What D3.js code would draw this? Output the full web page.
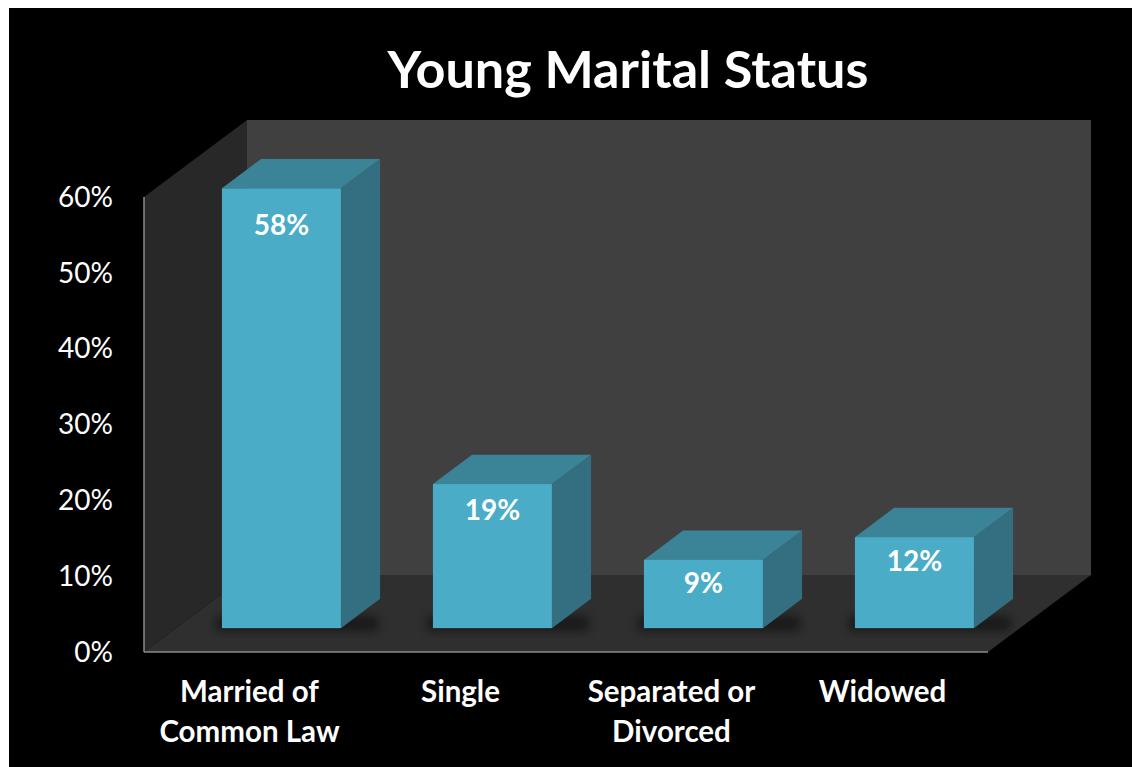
<!DOCTYPE html>
<html>
<head>
<meta charset="utf-8">
<script src="https://cdn.jsdelivr.net/npm/d3@7"></script>
<style>
  html, body { margin: 0; padding: 0; background: #fff; }
  svg { display: block; }
  text { font-family: Lato, "Open Sans", sans-serif; fill: #fff; }
</style>
</head>
<body>
<div id="chart"></div>
<script>
var categories = ['Married of Common Law', 'Single', 'Separated or Divorced', 'Widowed'];
var values = [0.58, 0.19, 0.09, 0.12];
var yTicks = [0, 0.1, 0.2, 0.3, 0.4, 0.5, 0.6];
var title = 'Young Marital Status';

var W = 1132, H = 767;

// front plane of the 3d box, and depth offset to the back wall
var plot = {left: 144, right: 988, bottom: 652, top: 197},
    depth = {dx: 103, dy: -77},
    barFront = 0.31, barBack = 0.69;

var svg = d3.select('#chart').append('svg')
  .attr('width', W)
  .attr('height', H);

var defs = svg.append('defs');
defs.append('filter').attr('id', 'blur')
  .attr('x', '-50%').attr('y', '-50%').attr('width', '200%').attr('height', '200%')
  .append('feGaussianBlur').attr('stdDeviation', 5);

// white edge, then black chart area
svg.append('rect').attr('width', W).attr('height', H).attr('fill', '#fff');
svg.append('rect').attr('x', 9).attr('y', 8).attr('width', W - 9).attr('height', H - 8).attr('fill', '#000');

var x = d3.scaleBand().domain(categories)
    .range([plot.left, plot.right])
    .paddingInner(0.436).paddingOuter(0.218),
    y = d3.scaleLinear().domain([0, 0.6]).range([plot.bottom, plot.top]);

function pt(px, py, f) { return [px + depth.dx * f, py + depth.dy * f]; }
function poly(pts) { return pts.map(function(p) { return p.join(','); }).join(' '); }

// walls
var L = plot.left, R = plot.right, B = plot.bottom, T = plot.top;
svg.append('polygon').attr('class', 'back')
  .attr('points', poly([pt(L, T, 1), pt(R, T, 1), pt(R, B, 1), pt(L, B, 1)]))
  .attr('fill', '#404040');
svg.append('polygon').attr('class', 'side')
  .attr('points', poly([[L, T], pt(L, T, 1), pt(L, B, 1), [L, B]]))
  .attr('fill', '#282828');
svg.append('polygon').attr('class', 'floor')
  .attr('points', poly([[L, B], pt(L, B, 1), pt(R, B, 1), [R, B]]))
  .attr('fill', '#2f2f2f');

// axis edges
svg.append('line').attr('x1', L).attr('x2', L).attr('y1', T).attr('y2', B)
  .attr('stroke', '#8a8a8a').attr('stroke-width', 1.5);
svg.append('line').attr('x1', L).attr('x2', R).attr('y1', B).attr('y2', B)
  .attr('stroke', '#8a8a8a').attr('stroke-width', 1.5);

// y tick labels
svg.selectAll('.ytick').data(yTicks).enter().append('text')
  .attr('class', 'ytick')
  .attr('x', 113)
  .attr('y', function(d) { return y(d); })
  .attr('dy', '0.35em')
  .attr('text-anchor', 'end')
  .style('font-size', '28px')
  .text(d3.format('.0%'));

var bw = x.bandwidth(), dfx = depth.dx * (barBack - barFront), dfy = depth.dy * (barBack - barFront);

var bars = svg.selectAll('.bar').data(values).enter().append('g')
  .attr('class', 'bar')
  .attr('transform', function(d, i) {
    var p = pt(x(categories[i]), 0, barFront);
    return 'translate(' + p[0] + ',' + p[1] + ')';
  });

// shadow on the floor
bars.append('rect')
  .attr('x', -6).attr('y', y(0) - 12)
  .attr('width', bw + dfx + 4).attr('height', 15)
  .attr('fill', '#000').attr('opacity', 0.45)
  .attr('filter', 'url(#blur)');

bars.append('polygon')
  .attr('points', function(d) {
    return poly([[bw, y(d)], [bw + dfx, y(d) + dfy], [bw + dfx, y(0) + dfy], [bw, y(0)]]);
  })
  .attr('fill', '#336f80');
bars.append('polygon')
  .attr('points', function(d) {
    return poly([[0, y(d)], [dfx, y(d) + dfy], [bw + dfx, y(d) + dfy], [bw, y(d)]]);
  })
  .attr('fill', '#3b8396');
bars.append('rect')
  .attr('x', 0).attr('y', function(d) { return y(d); })
  .attr('width', bw).attr('height', function(d) { return y(0) - y(d); })
  .attr('fill', '#4aacc6');

bars.append('text')
  .attr('x', bw / 2)
  .attr('y', function(d) { return y(d) + 21 + 28 * d; })
  .attr('dy', '0.35em')
  .attr('text-anchor', 'middle')
  .style('font-size', '28px').style('font-weight', 'bold')
  .text(d3.format('.0%'));

// category labels, wrapped
var cats = svg.selectAll('.cat').data(categories).enter().append('text')
  .attr('class', 'cat')
  .attr('text-anchor', 'middle')
  .style('font-size', '29.5px').style('font-weight', 'bold');

cats.each(function(d, i) {
  var t = d3.select(this),
      cx = plot.left + (i + 0.5) * x.step();
  var words = d.split(' '), lines = [], line = [];
  var probe = t.append('tspan');
  words.forEach(function(w) {
    line.push(w);
    probe.text(line.join(' '));
    if (probe.node().getComputedTextLength() > 205 && line.length > 1) {
      line.pop();
      lines.push(line.join(' '));
      line = [w];
    }
  });
  lines.push(line.join(' '));
  probe.remove();
  lines.forEach(function(l, j) {
    t.append('tspan').attr('x', cx).attr('y', 702 + j * 40).text(l);
  });
});

// title, fitted to its width in the reference
var tt = svg.append('text')
  .attr('x', 628).attr('y', 88)
  .attr('text-anchor', 'middle')
  .style('font-size', '50px').style('font-weight', 'bold')
  .text(title);
var tw = tt.node().getComputedTextLength();
tt.style('font-size', (50 * 481 / tw) + 'px');
</script>
</body>
</html>
